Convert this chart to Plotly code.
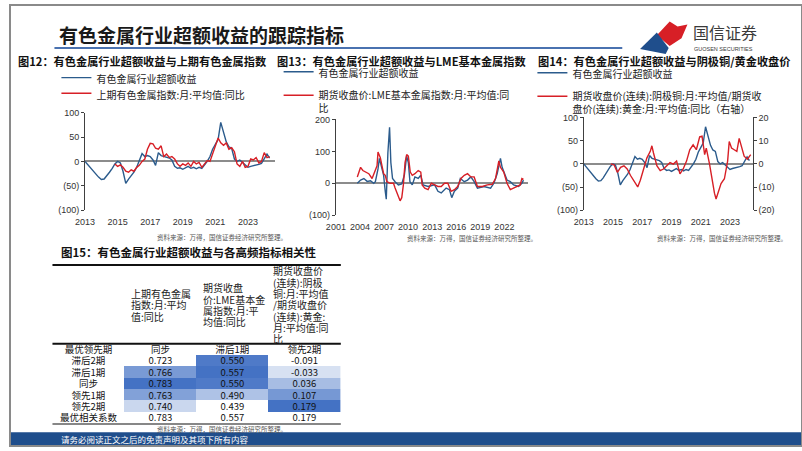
import plotly.graph_objects as go

W, H = 802, 451
def px(x):
    return x / W
def py(y):
    return 1 - y / H

CJK = "Noto Sans CJK SC"
NUM = "Liberation Sans"
BLUE = "#2b5b8c"
RED = "#d71f26"

# ---------------- data ----------------
# 有色金属行业超额收益 (charts 12 & 14)
ex_years = [2013.00, 2013.17, 2013.33, 2013.50, 2013.67, 2013.83, 2014.00, 2014.17, 2014.33, 2014.50,
            2014.67, 2014.83, 2015.00, 2015.17, 2015.33, 2015.50, 2015.67, 2015.83, 2016.00, 2016.17,
            2016.33, 2016.50, 2016.67, 2016.83, 2017.00, 2017.17, 2017.33, 2017.50, 2017.67, 2017.83,
            2018.00, 2018.17, 2018.33, 2018.50, 2018.67, 2018.83, 2019.00, 2019.17, 2019.33, 2019.50,
            2019.67, 2019.83, 2020.00, 2020.17, 2020.33, 2020.50, 2020.67, 2020.83, 2021.00, 2021.17,
            2021.33, 2021.50, 2021.67, 2021.83, 2022.00, 2022.17, 2022.33, 2022.50, 2022.67, 2022.83,
            2023.00, 2023.17, 2023.33, 2023.50, 2023.67, 2023.83, 2024.00, 2024.17, 2024.33]
ex_vals = [0, -7, -14, -20, -26, -32, -37, -36, -30, -22,
           -14, -5, 0, -3, -20, -45, -36, -30, -22, -12,
           0, 16, 10, 12, 10, 3, -8, 18, 12, 10,
           8, 7, 3, -10, -14, -13, -16, -12, -10, -14,
           -12, -15, -12, -14, -8, 0, 10, 25, 35, 45,
           80, 62, 40, 30, 27, 5, 0, 3, -2, -8,
           -12, -10, -9, -8, -6, -4, 5, 15, 7]

# 上期有色金属指数:月:平均值:同比 (chart 12)
shfe_years = [2014.83, 2015.00, 2015.17, 2015.33, 2015.50, 2015.67, 2015.83, 2016.00, 2016.17, 2016.33,
              2016.50, 2016.67, 2016.83, 2017.00, 2017.17, 2017.33, 2017.50, 2017.67, 2017.83, 2018.00,
              2018.17, 2018.33, 2018.50, 2018.67, 2018.83, 2019.00, 2019.17, 2019.33, 2019.50, 2019.67,
              2019.83, 2020.00, 2020.17, 2020.33, 2020.50, 2020.67, 2020.83, 2021.00, 2021.17, 2021.33,
              2021.50, 2021.67, 2021.83, 2022.00, 2022.17, 2022.33, 2022.50, 2022.67, 2022.83, 2023.00,
              2023.17, 2023.33, 2023.50, 2023.67, 2023.83, 2024.00, 2024.17, 2024.33]
shfe_vals = [-5, -10, -7, -12, -20, -22, -17, -20, -12, -8,
             0, 5, 25, 37, 36, 27, 25, 32, 10, 15,
             8, 10, 5, -5, -10, -5, -8, -3, -10, 0,
             -5, -2, -12, -5, 2, 0, 15, 30, 48, 38,
             33, 38, 25, 28, 20, -5, -10, 0, -12, -10,
             5, 3, 8, -3, 0, 18, 8, 10]

# chart 13: 有色金属行业超额收益 (long history)
ex13_years = [2003.67, 2004.08, 2004.49, 2004.90, 2005.31, 2005.72, 2005.92, 2006.25, 2006.42, 2006.66,
              2006.95, 2007.15, 2007.28, 2007.48, 2007.69, 2007.85, 2008.06, 2008.38, 2008.79, 2009.21,
              2009.53, 2009.82, 2010.03, 2010.23, 2010.52, 2010.85, 2011.26, 2011.58, 2011.87, 2012.49,
              2013.31, 2013.72, 2014.13, 2014.74, 2015.15, 2015.44, 2015.77, 2016.18, 2016.51, 2017.00,
              2017.41, 2017.82, 2018.23, 2018.64, 2019.46, 2020.28, 2020.69, 2021.10, 2021.51, 2021.72,
              2022.00, 2022.33, 2022.74, 2023.15, 2023.77, 2024.18, 2024.38]
ex13_vals = [0, 10, 15, 6, 8, 0, 5, 45, 78, 55,
             25, -25, -50, 95, 175, 65, 15, 5, -5, -2,
             25, 85, 65, 5, -5, 20, 15, 25, -5, -10,
             -5, -25, -30, -15, -20, -45, -25, -15, 15, 5,
             10, 20, 5, -15, -10, -15, 0, 30, 78, 50,
             30, 10, 5, -5, -10, 0, 10]

# 期货收盘价:LME基本金属指数:月:平均值:同比 (chart 13)
lme_years = [2003.67, 2004.08, 2004.36, 2004.69, 2005.10, 2005.51, 2005.84, 2006.13, 2006.25, 2006.54,
             2006.74, 2006.95, 2007.15, 2007.36, 2007.77, 2008.18, 2008.38, 2008.71, 2009.00, 2009.21,
             2009.41, 2009.62, 2009.82, 2010.03, 2010.27, 2010.52, 2010.85, 2011.26, 2011.58, 2011.75,
             2012.08, 2012.49, 2012.90, 2013.31, 2013.72, 2014.13, 2014.54, 2014.95, 2015.36, 2015.77,
             2016.18, 2016.59, 2017.00, 2017.41, 2017.82, 2018.23, 2018.64, 2019.26, 2019.87, 2020.49,
             2020.90, 2021.31, 2021.51, 2021.92, 2022.33, 2022.74, 2023.15, 2023.56, 2023.97, 2024.18,
             2024.38]
lme_vals = [20, 50, 40, 35, 30, 15, 35, 55, 98, 80,
            55, 30, 25, 5, 0, 0, -15, -40, -55, -45,
            -5, 65, 90, 85, 35, 25, 30, 40, 35, -5,
            -15, -20, 0, -5, -10, -10, 0, 0, -25, -20,
            -10, 15, 25, 30, 20, 20, -10, -10, -5, -3,
            15, 70, 50, 35, 0, -20, -15, -10, -5, 15,
            12]

# 阴极铜/黄金 同比 (chart 14, right axis)
cug_years = [2014.85, 2015.07, 2015.30, 2015.52, 2015.75, 2015.97, 2016.20, 2016.49, 2016.69, 2016.87,
             2017.10, 2017.32, 2017.55, 2017.66, 2017.77, 2018.00, 2018.23, 2018.45, 2018.68, 2018.90,
             2019.13, 2019.35, 2019.58, 2019.80, 2020.03, 2020.25, 2020.48, 2020.70, 2020.93, 2021.09,
             2021.27, 2021.38, 2021.60, 2021.78, 2021.94, 2022.05, 2022.21, 2022.39, 2022.62, 2022.73,
             2022.84, 2022.95, 2023.11, 2023.29, 2023.47, 2023.63, 2023.79, 2023.97, 2024.19, 2024.42]
cug_vals = [0, -0.4, -3.6, -1.5, -0.8, -2.2, -5, -7.8, -9.9, -7,
            -1.5, 2.6, 5.4, 7.8, 4.7, -0.8, -2.9, -2.2, -0.8, 0.6,
            -0.1, 1.2, -4.3, -2.2, 1.2, 6.1, 8.2, 6.1, 11.7, 12,
            4, 6.8, 0, -7, -12.6, -15.1, -12, -8.5, -6.4, -2.2,
            1.2, 9.6, 6.8, 6.1, 5.4, 11, 6.8, 3.3, 2, 4]

# tick labels
left_tickvals = [-100, -50, 0, 50, 100]
left_ticktext = ["(100)", "(50)", "0", "50", "100"]
c13_tickvals = [-100, 0, 100, 200]
c13_ticktext = ["(100)", "0", "100", "200"]
right_tickvals = [-20, -10, 0, 10, 20]
right_ticktext = ["(20)", "(10)", "0", "10", "20"]
years_2 = [2013, 2015, 2017, 2019, 2021, 2023]
years_3 = [2001, 2004, 2007, 2010, 2013, 2016, 2019, 2022]

# table (图15)
row_labels = ["最优领先期", "滞后2期", "滞后1期", "同步", "领先1期", "领先2期", "最优相关系数"]
best_lead = ["同步", "滞后1期", "领先2期"]
corr_shfe = [0.723, 0.766, 0.783, 0.763, 0.740]
corr_lme = [0.550, 0.557, 0.550, 0.490, 0.439]
corr_cug = [-0.091, -0.033, 0.036, 0.107, 0.179]
best_corr = [0.783, 0.557, 0.179]
hdr_shfe = ["上期有色金属", "指数:月:平均", "值:同比"]
hdr_lme = ["期货收盘", "价:LME基本金", "属指数:月:平", "均值:同比"]
hdr_cug = ["期货收盘价", "(连续):阴极", "铜:月:平均值", "/期货收盘价", "(连续):黄金:", "月:平均值:同", "比"]

name_ex = "有色金属行业超额收益"
name_shfe = "上期有色金属指数:月:平均值:同比"
name_lme = "期货收盘价:LME基本金属指数:月:平均值:同<br>比"
name_cug = "期货收盘价(连续):阴极铜:月:平均值/期货收<br>盘价(连续):黄金:月:平均值:同比（右轴）"

# ---------------- figure ----------------
fig = go.Figure()
lw = 1.4

fig.add_trace(go.Scatter(x=ex_years, y=ex_vals, mode="lines", name=name_ex, line=dict(color=BLUE, width=lw),
                         xaxis="x", yaxis="y", legend="legend"))
fig.add_trace(go.Scatter(x=shfe_years, y=shfe_vals, mode="lines", name=name_shfe, line=dict(color=RED, width=lw),
                         xaxis="x", yaxis="y", legend="legend2"))
fig.add_trace(go.Scatter(x=ex13_years, y=ex13_vals, mode="lines", name=name_ex, line=dict(color=BLUE, width=lw),
                         xaxis="x2", yaxis="y2", legend="legend3"))
fig.add_trace(go.Scatter(x=lme_years, y=lme_vals, mode="lines", name=name_lme, line=dict(color=RED, width=lw),
                         xaxis="x2", yaxis="y2", legend="legend4"))
fig.add_trace(go.Scatter(x=ex_years, y=ex_vals, mode="lines", name=name_ex, line=dict(color=BLUE, width=lw),
                         xaxis="x3", yaxis="y3", legend="legend5"))
fig.add_trace(go.Scatter(x=cug_years, y=cug_vals, mode="lines", name=name_cug, line=dict(color=RED, width=lw),
                         xaxis="x3", yaxis="y4", legend="legend6"))

# table body as heatmap (per-column colour scale like conditional formatting)
def norm(vals):
    lo, hi = min(vals), max(vals)
    return [(v - lo) / (hi - lo) for v in vals]

n2, n3, n4 = norm(corr_shfe), norm(corr_lme), norm(corr_cug)
z = [[0, 0, 0, 0]]
txt = [[row_labels[0]] + best_lead]
for i in range(5):
    z.append([0, n2[i], n3[i], n4[i]])
    txt.append([row_labels[i + 1], f"{corr_shfe[i]:.3f}", f"{corr_lme[i]:.3f}", f"{corr_cug[i]:.3f}"])
z.append([0, 0, 0, 0])
txt.append([row_labels[6]] + [f"{v:.3f}" for v in best_corr])

fig.add_trace(go.Heatmap(z=z, text=txt, texttemplate="%{text}", x=[0, 1, 2, 3], y=list(range(7)),
                         colorscale=[[0, "#ffffff"], [1, "#4472c4"]], zmin=0, zmax=1, showscale=False,
                         xgap=0, ygap=0, hoverinfo="skip", xaxis="x4", yaxis="y5",
                         textfont=dict(family=CJK, size=9.5, color="#111111")))

tickfont = dict(family=NUM, size=9, color="#333333")
yax_common = dict(showgrid=False, showline=True, linecolor="#404040", linewidth=1, ticks="outside",
                  ticklen=3, tickcolor="#404040", tickfont=tickfont, zeroline=True,
                  zerolinecolor="#8c8c8c", zerolinewidth=1.5, fixedrange=True)
xax_common = dict(showgrid=False, showline=False, ticks="", zeroline=False, tickfont=tickfont,
                  ticklabelstandoff=5, fixedrange=True)

fig.update_layout(
    width=W, height=H, autosize=False, margin=dict(l=0, r=0, t=0, b=0),
    paper_bgcolor="white", plot_bgcolor="rgba(0,0,0,0)", showlegend=True,
    font=dict(family=CJK, color="#222222"),
    xaxis=dict(domain=[px(76), px(268)], range=[2013, 2024.64], tickvals=years_2, anchor="y", **xax_common),
    yaxis=dict(domain=[py(210), py(110)], range=[-100, 100], tickvals=left_tickvals, ticktext=left_ticktext,
               anchor="x", **yax_common),
    xaxis2=dict(domain=[px(330), px(525)], range=[2001, 2025.0], tickvals=years_3, anchor="y2", **xax_common),
    yaxis2=dict(domain=[py(215), py(117)], range=[-100, 200], tickvals=c13_tickvals, ticktext=c13_ticktext,
                anchor="x2", **yax_common),
    xaxis3=dict(domain=[px(581), px(752)], range=[2013, 2024.55], tickvals=years_2, anchor="y3", **xax_common),
    yaxis3=dict(domain=[py(210), py(115)], range=[-100, 100], tickvals=left_tickvals, ticktext=left_ticktext,
                anchor="x3", **yax_common),
    yaxis4=dict(overlaying="y3", side="right", anchor="x3", range=[-20, 20], tickvals=right_tickvals,
                ticktext=right_ticktext, showgrid=False, showline=True, linecolor="#404040", linewidth=1,
                ticks="outside", ticklen=3, tickcolor="#404040", tickfont=tickfont, zeroline=False,
                fixedrange=True),
    xaxis4=dict(domain=[px(43), px(335)], range=[-0.5, 3.5], visible=False, anchor="y5", fixedrange=True),
    yaxis5=dict(domain=[py(428), py(346)], range=[6.5, -0.5], visible=False, anchor="x4", fixedrange=True),
)

leg_common = dict(xanchor="left", yanchor="top", bgcolor="rgba(0,0,0,0)", borderwidth=0,
                  font=dict(family=CJK, size=10, color="#222222"),
                  itemclick=False, itemdoubleclick=False, valign="top")
LEG_OFF = 16  # legend top -> first text line centre
fig.update_layout(
    legend=dict(x=px(47), y=py(77 - LEG_OFF), **leg_common),
    legend2=dict(x=px(47), y=py(93 - LEG_OFF), **leg_common),
    legend3=dict(x=px(272), y=py(71 - LEG_OFF), **leg_common),
    legend4=dict(x=px(272), y=py(95 - LEG_OFF), **leg_common),
    legend5=dict(x=px(529), y=py(72 - LEG_OFF), **leg_common),
    legend6=dict(x=px(529), y=py(96 - LEG_OFF), **leg_common),
)

# ---------------- text & decoration ----------------
ann = []
def text(x, y, s, size, color="#222222", bold=False, xanchor="left", family=CJK):
    ann.append(dict(x=px(x), y=py(y), xref="paper", yref="paper", text=(f"<b>{s}</b>" if bold else s),
                    showarrow=False, xanchor=xanchor, yanchor="middle", align="left",
                    font=dict(family=family, size=size, color=color)))

text(48, 30, "有色金属行业超额收益的跟踪指标", 19, "#1a1a1a", bold=True)
text(690, 28, "国信证券", 16, "#3a3a3a")
text(691, 44.5, "GUOSEN SECURITIES", 5.5, "#3a3a3a", family=NUM)
text(6, 57, "图12：有色金属行业超额收益与上期有色金属指数", 11.2, "#111111", bold=True)
text(268, 57, "图13：有色金属行业超额收益与LME基本金属指数", 11.2, "#111111", bold=True)
text(533, 57, "图14：有色金属行业超额收益与阴极铜/黄金收盘价", 11.2, "#111111", bold=True)
src = "资料来源：万得，国信证券经济研究所整理。"
text(147, 237, src, 6.5, "#555555")
text(400, 238, src, 6.5, "#555555")
text(653, 238, src, 6.5, "#555555")
text(147, 434, src, 6.5, "#555555")
text(50, 253, "图15：有色金属行业超额收益与各高频指标相关性", 11.5, "#111111", bold=True)

line_h = 11.6
for lines, x0 in ((hdr_shfe, 121), (hdr_lme, 193), (hdr_cug, 264)):
    n = len(lines)
    top = 306.5 - (n - 1) * line_h / 2
    for i, s in enumerate(lines):
        text(x0, top + i * line_h, s, 10, "#222222")

text(50, 444, "请务必阅读正文之后的免责声明及其项下所有内容", 8.5, "#ffffff")

shapes = []
def hline(x0, x1, y, color, width):
    shapes.append(dict(type="line", xref="paper", yref="paper", x0=px(x0), x1=px(x1), y0=py(y), y1=py(y),
                       line=dict(color=color, width=width)))

hline(45, 620, 44, "#4a72b0", 2)
hline(43, 335, 266, "#111111", 2)
hline(43, 335, 346.5, "#111111", 2)
hline(43, 335, 428.5, "#111111", 1.2)
# footer bar
shapes.append(dict(type="rect", xref="paper", yref="paper", x0=0, x1=1, y0=0, y1=py(437),
                   fillcolor="#1f4e8c", line=dict(width=0), layer="below"))
# logo
shapes.append(dict(type="path", xref="paper", yref="paper",
                   path=f"M {px(655)},{py(31)} L {px(668)},{py(17)} L {px(676)},{py(22)} L {px(686)},{py(20)} "
                        f"L {px(680)},{py(34)} L {px(668)},{py(42)} Z",
                   fillcolor="#d71f26", line=dict(width=0)))
shapes.append(dict(type="path", xref="paper", yref="paper",
                   path=f"M {px(638)},{py(45)} L {px(655)},{py(28)} L {px(667)},{py(44)} L {px(664)},{py(50)} Z",
                   fillcolor="#1f4e8c", line=dict(width=0)))
# slide frame
shapes.append(dict(type="rect", xref="paper", yref="paper", x0=0, x1=1, y0=0, y1=1,
                   line=dict(color="#8a8a8a", width=2), fillcolor="rgba(0,0,0,0)"))

fig.update_layout(annotations=ann, shapes=shapes)
pin = ("document.documentElement.style.margin='0';document.body.style.margin='0';"
       "document.body.style.overflow='hidden';document.documentElement.style.overflow='hidden';"
       "var d=document.querySelector('.plotly-graph-div');"
       "d.style.position='fixed';d.style.left='0px';d.style.top='0px';window.scrollTo(0,0);")
fig.write_html("out.html", config={"displayModeBar": False}, post_script=pin)
